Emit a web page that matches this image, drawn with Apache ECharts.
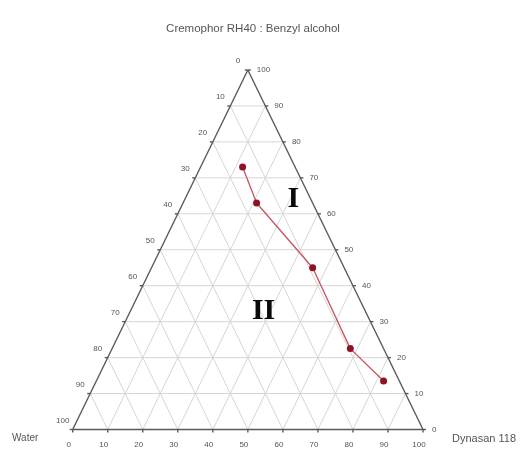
<!DOCTYPE html>
<html>
<head>
<meta charset="utf-8">
<title>Ternary phase diagram</title>
<script src="https://cdn.jsdelivr.net/npm/echarts@6/dist/echarts.min.js"></script>
<style>
  html, body { margin: 0; padding: 0; background: #fff; }
  #chart { width: 522px; height: 453px; }
</style>
</head>
<body>
<div id="chart"></div>
<script>
// Phase boundary composition (% w/w)
const surfactantMix = [73, 63, 45, 22.5, 13.5]; // Cremophor RH40 : Benzyl alcohol
const dynasan = [12, 21, 46, 68, 82];           // Dynasan 118
const water = [15, 16, 9, 9.5, 4.5];            // Water

// Tick values and labels for the three triangle edges
const ticks = [0, 10, 20, 30, 40, 50, 60, 70, 80, 90, 100];
const bottomLabels = ['0', '10', '20', '30', '40', '50', '60', '70', '80', '90', '100'];
const leftLabels = ['100', '90', '80', '70', '60', '50', '40', '30', '20', '10', '0'];
const rightLabels = ['0', '10', '20', '30', '40', '50', '60', '70', '80', '90', '100'];

const titleText = 'Cremophor RH40 : Benzyl alcohol';
const leftCorner = 'Water';
const rightCorner = 'Dynasan 118';
// phase region names with a composition inside each region
const regionNames = ['I', 'II'];
const regionDynasan = [31, 38];
const regionSurfactant = [64, 33];

// ternary (dynasan, surfactant) -> plane coordinates on 0..100 value axes
function toXY(d, c) { return [d + c / 2, c]; }

// grid segments: [x1, y1, x2, y2, kind]
const segments = [];
ticks.slice(1, -1).forEach(k => {
  const a = toXY(0, k), b = toXY(100 - k, k);           // horizontal
  segments.push([a[0], a[1], b[0], b[1], 0]);
  const p = toXY(k, 0), q = toXY(k, 100 - k);           // parallel to left edge
  segments.push([p[0], p[1], q[0], q[1], 0]);
  const r = toXY(k, 0), s = toXY(0, k);                 // parallel to right edge
  segments.push([r[0], r[1], s[0], s[1], 0]);
});
// triangle frame
const A = toXY(0, 100), L = toXY(0, 0), R = toXY(100, 0);
segments.push([L[0], L[1], R[0], R[1], 1]);
segments.push([L[0], L[1], A[0], A[1], 1]);
segments.push([R[0], R[1], A[0], A[1], 1]);

// tick marks and labels: [x, y, side, index]
const tickItems = [];
ticks.forEach((k, i) => {
  const b = toXY(k, 0); tickItems.push([b[0], b[1], 0, i]);
  const l = toXY(0, k); tickItems.push([l[0], l[1], 1, i]);
  const r = toXY(100 - k, k); tickItems.push([r[0], r[1], 2, i]);
});

const labelFont = 'Liberation Sans, Arial, sans-serif';
const axisGray = '#5a5a5a';
const textGray = '#555';

const chart = echarts.init(document.getElementById('chart'), null, { renderer: 'canvas' });

chart.setOption({
  backgroundColor: '#ffffff',
  animation: false,
  title: {
    text: titleText,
    left: 248, top: 18, textAlign: 'center',
    textStyle: { fontFamily: labelFont, fontSize: 11.5, fontWeight: 'normal', color: '#555' }
  },
  grid: { left: 72.7, right: 99, top: 70, bottom: 23.5 },
  xAxis: { type: 'value', min: 0, max: 100, show: false },
  yAxis: { type: 'value', min: 0, max: 100, show: false },
  graphic: [
    { type: 'text', left: 12, top: 433, style: { text: leftCorner, font: '10px ' + labelFont, fill: textGray } },
    { type: 'text', left: 452, top: 433, style: { text: rightCorner, font: '11px ' + labelFont, fill: textGray } }
  ],
  series: [
    {
      type: 'custom',
      coordinateSystem: 'cartesian2d',
      silent: true,
      z: 1,
      encode: { x: [0, 2], y: [1, 3] },
      data: segments,
      renderItem: function (params, api) {
        const p1 = api.coord([api.value(0), api.value(1)]);
        const p2 = api.coord([api.value(2), api.value(3)]);
        const frame = api.value(4) === 1;
        return {
          type: 'line',
          shape: { x1: p1[0], y1: p1[1], x2: p2[0], y2: p2[1] },
          style: frame
            ? { stroke: axisGray, lineWidth: 1.4 }
            : { stroke: '#d6d6d6', lineWidth: 1 }
        };
      }
    },
    {
      type: 'custom',
      coordinateSystem: 'cartesian2d',
      silent: true,
      z: 2,
      encode: { x: 0, y: 1 },
      data: tickItems,
      renderItem: function (params, api) {
        const p = api.coord([api.value(0), api.value(1)]);
        const side = api.value(2);
        const i = api.value(3);
        let tick, text;
        if (side === 0) {
          tick = { x1: p[0], y1: p[1], x2: p[0], y2: p[1] + 3 };
          text = { x: p[0] - 4, y: p[1] + 15, text: bottomLabels[i], align: 'center', verticalAlign: 'middle' };
        } else if (side === 1) {
          tick = { x1: p[0], y1: p[1], x2: p[0] - 3, y2: p[1] };
          text = { x: p[0] - 10, y: p[1] - 9, text: leftLabels[i], align: 'center', verticalAlign: 'middle' };
        } else {
          tick = { x1: p[0], y1: p[1], x2: p[0] + 3, y2: p[1] };
          text = { x: p[0] + 9, y: p[1], text: rightLabels[i], align: 'left', verticalAlign: 'middle' };
        }
        return {
          type: 'group',
          children: [
            { type: 'line', shape: tick, style: { stroke: axisGray, lineWidth: 1.4 } },
            {
              type: 'text',
              style: {
                x: text.x, y: text.y, text: text.text,
                align: text.align, verticalAlign: text.verticalAlign,
                font: '8px ' + labelFont, fill: textGray
              }
            }
          ]
        };
      }
    },
    {
      type: 'line',
      name: 'Phase boundary',
      z: 5,
      data: surfactantMix.map((c, i) => toXY(dynasan[i], c)),
      symbol: 'circle',
      symbolSize: 7,
      lineStyle: { color: '#c4555e', width: 1.3 },
      itemStyle: { color: '#8e1225' }
    },
    {
      type: 'custom',
      coordinateSystem: 'cartesian2d',
      silent: true,
      z: 6,
      encode: { x: 0, y: 1 },
      data: regionNames.map((n, i) => toXY(regionDynasan[i], regionSurfactant[i]).concat([i])),
      renderItem: function (params, api) {
        const p = api.coord([api.value(0), api.value(1)]);
        return {
          type: 'text',
          style: {
            x: p[0], y: p[1], text: regionNames[api.value(2)],
            align: 'center', verticalAlign: 'middle',
            font: 'bold 30px "Liberation Serif", "Times New Roman", serif',
            fill: '#0a0a0a'
          }
        };
      }
    }
  ]
});
</script>
</body>
</html>
